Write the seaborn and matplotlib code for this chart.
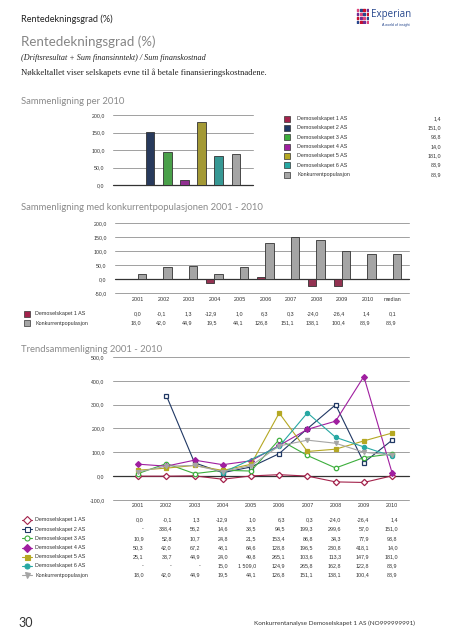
import numpy as np
import pandas as pd
import matplotlib
matplotlib.use("Agg")
import matplotlib.pyplot as plt
from matplotlib.lines import Line2D
import seaborn as sns

# ---- data ----
firms = ["Demoselskapet 1 AS", "Demoselskapet 2 AS", "Demoselskapet 3 AS",
         "Demoselskapet 4 AS", "Demoselskapet 5 AS", "Demoselskapet 6 AS",
         "Konkurrentpopulasjon"]
firm_colors = ["#a3224b", "#203864", "#3cae3c", "#a01fa0", "#b5a823", "#27a8a3", "#a5a5a5"]
values_2010 = [1.4, 151.0, 93.8, 14.0, 181.0, 83.9, 88.9]

comp_labels = ["2001", "2002", "2003", "2004", "2005", "2006", "2007", "2008", "2009", "2010", "median"]
comp_firm1 = [0.0, -0.1, 1.3, -12.9, 1.0, 6.3, 0.3, -24.0, -26.4, 1.4, 0.1]
comp_pop = [18.0, 42.0, 44.9, 19.5, 44.1, 126.8, 151.1, 138.1, 100.4, 88.9, 88.9]

years = [2001, 2002, 2003, 2004, 2005, 2006, 2007, 2008, 2009, 2010]
nan = np.nan
trend_1 = [0.0, -0.1, 1.3, -12.9, 1.0, 6.3, 0.3, -24.0, -26.4, 1.4]
trend_2 = [nan, 338.4, 56.2, 14.6, 38.5, 94.5, 199.3, 299.6, 57.0, 151.0]
trend_3 = [10.9, 52.8, 10.7, 24.8, 21.5, 153.4, 86.8, 34.3, 77.9, 93.8]
trend_4 = [50.3, 42.0, 67.2, 48.1, 64.6, 128.8, 196.5, 230.8, 418.1, 14.0]
trend_5 = [25.1, 33.7, 44.9, 24.0, 49.8, 265.1, 103.6, 113.3, 147.9, 181.0]
trend_6 = [nan, nan, nan, 15.0, 1509.0, 124.9, 265.8, 162.8, 122.8, 83.9]
trend_pop = [18.0, 42.0, 44.9, 19.5, 44.1, 126.8, 151.1, 138.1, 100.4, 88.9]
trend_series = [trend_1, trend_2, trend_3, trend_4, trend_5, trend_6, trend_pop]
trend_markers = ["D", "s", "o", "D", "s", "o", "v"]
trend_open = [True, True, True, False, False, False, False]

W, H = 453, 640
sns.set_style("white")
plt.rcParams["font.family"] = ["Liberation Sans", "DejaVu Sans"]
TXT = "#333333"
HEAD = "Lato"

fig = plt.figure(figsize=(W / 100, H / 100), dpi=100)


def px_axes(x0, y0, x1, y1):
    return fig.add_axes([x0 / W, 1 - y1 / H, (x1 - x0) / W, (y1 - y0) / H])


def ftext(x, y, s, **kw):
    kw.setdefault("va", "center")
    fig.text(x / W, 1 - y / H, s, **kw)


def fmt(v):
    if np.isnan(v):
        return "-"
    return f"{v:,.1f}".replace(",", " ").replace(".", ",")


def fmarker(x, y, color, marker, open_=False, line=False, ms=4):
    xs = [(x - 5) / W, x / W, (x + 5) / W] if line else [x / W]
    ys = [1 - y / H] * len(xs)
    fig.add_artist(Line2D(xs, ys, transform=fig.transFigure, color=color, lw=0.8,
                          marker=marker, ms=ms, markevery=[1] if line else None,
                          mfc="white" if open_ else color,
                          mec=color if line else "#333333", mew=0.8 if line else 0.5))


def style_axes(ax, ticks):
    for s in ax.spines.values():
        s.set_visible(False)
    for t in ticks:
        ax.axhline(t, color="#333333" if t == 0 else "#a0a0a0",
                   lw=0.9 if t == 0 else 0.7, zorder=0, clip_on=False)
    ax.set_yticks(ticks)
    ax.set_yticklabels([fmt(t) for t in ticks], fontsize=3.8, color=TXT)
    ax.tick_params(axis="y", length=0, pad=6)
    ax.set_xlabel("")
    ax.set_ylabel("")


# ---- page header ----
ftext(21, 19, "Rentedekningsgrad (%)", size=6.6, color="#222222", family=HEAD)
ftext(21, 42, "Rentedekningsgrad (%)", size=9.6, color="#858585", family=HEAD)
ftext(21, 58, "(Driftsresultat + Sum finansinntekt) / Sum finanskostnad", size=5.9,
      style="italic", family="Liberation Serif", color="#222222")
ftext(21, 73, "Nøkkeltallet viser selskapets evne til å betale finansieringskostnadene.",
      size=6.2, family="Liberation Serif", color="#222222")

# logo
logo = px_axes(356, 8, 369, 24)
gx, gy = np.meshgrid(np.arange(4), np.arange(4))
dot_cols = ["#26478d", "#c8102e", "#6f2c91", "#e0457b"]
logo.scatter(gx.ravel(), gy.ravel(), s=1.2, marker="s",
             c=[dot_cols[(i + j) % 4] for i, j in zip(gx.ravel(), gy.ravel())])
logo.set_xlim(-0.5, 3.5)
logo.set_ylim(-0.5, 3.5)
logo.axis("off")
ftext(371, 15, "Experian", size=7, color="#26478d", family="Open Sans")
ftext(410, 25, "A world of insight", size=2.6, color="#26478d", ha="right")

# ---- chart 1 ----
ftext(21, 101, "Sammenligning per 2010", size=6.8, color="#8a8a8a", family=HEAD)
ax1 = px_axes(113, 115, 253, 185)
sns.barplot(x=firms, y=values_2010, hue=firms, palette=firm_colors, width=0.5,
            edgecolor="#333333", linewidth=0.6, legend=False, ax=ax1, zorder=2)
ax1.set_ylim(0, 200)
ax1.set_xlim(-1.17, 7.0)
ax1.set_xticks([])
style_axes(ax1, [0, 50, 100, 150, 200])

for i, (name, col, v) in enumerate(zip(firms, firm_colors, values_2010)):
    y = 118.5 + i * 9.35
    fmarker(287, y, col, "s")
    ftext(297, y, name, size=3.9, color=TXT)
    ftext(441, y, fmt(v), size=3.9, color=TXT, ha="right")

# ---- chart 2 ----
ftext(21, 208, "Sammenligning med konkurrentpopulasjonen 2001 - 2010", size=6.8,
      color="#8a8a8a", family=HEAD)
ax2 = px_axes(115, 223, 409, 293)
comp_df = pd.DataFrame({
    "label": comp_labels * 2,
    "serie": [firms[0]] * len(comp_labels) + [firms[6]] * len(comp_labels),
    "value": comp_firm1 + comp_pop,
})
sns.barplot(data=comp_df, x="label", y="value", hue="serie",
            palette=[firm_colors[0], firm_colors[6]], width=0.65,
            edgecolor="#333333", linewidth=0.6, ax=ax2, zorder=2)
ax2.legend_.remove()
ax2.set_ylim(-50, 200)
ax2.set_xlim(-0.9, 10.63)
style_axes(ax2, [-50, 0, 50, 100, 150, 200])
ax2.tick_params(axis="x", length=0, pad=3.2, labelsize=3.9, labelcolor=TXT)

for r, (name, col, vals) in enumerate([(firms[0], firm_colors[0], comp_firm1),
                                       (firms[6], firm_colors[6], comp_pop)]):
    y = 313.7 + r * 9.3
    fmarker(27, y, col, "s")
    ftext(35, y, name, size=3.9, color=TXT)
    for i, v in enumerate(vals):
        ax2.text(i + 0.12, 1 - (y - 223) / 70, fmt(v), transform=ax2.get_xaxis_transform(),
                 ha="right", va="center", fontsize=3.9, color=TXT, clip_on=False)

# ---- chart 3 ----
ftext(21, 349, "Trendsammenligning 2001 - 2010", size=6.8, color="#8a8a8a", family=HEAD)
ax3 = px_axes(113, 357, 409, 500)
ymin3, ymax3 = -100, 500
for name, col, vals, mk, op in zip(firms, firm_colors, trend_series, trend_markers, trend_open):
    # values outside the axis range are not drawn
    shown = [v if ymin3 <= v <= ymax3 else nan for v in vals]
    sns.lineplot(x=np.arange(len(years)), y=shown, color=col, lw=0.8, marker=mk,
                 ms=3.2 if op else 3.0, mfc="white" if op else col, mec=col, mew=0.9,
                 ax=ax3, zorder=3)
ax3.set_ylim(ymin3, ymax3)
ax3.set_xlim(-0.89, 9.6)
style_axes(ax3, [-100, 0, 100, 200, 300, 400, 500])
ax3.set_xticks(np.arange(len(years)))
ax3.set_xticklabels([str(y) for y in years])
ax3.tick_params(axis="x", length=0, pad=2.2, labelsize=3.9, labelcolor=TXT)

for r, (name, col, vals, mk, op) in enumerate(zip(firms, firm_colors, trend_series,
                                                    trend_markers, trend_open)):
    y = 520 + r * 9.2
    fmarker(27, y, col, mk, open_=op, line=True, ms=3.6)
    ftext(35, y, name, size=3.9, color=TXT)
    for i, v in enumerate(vals):
        ax3.text(i + 0.2, 1 - (y - 357) / 143, fmt(v), transform=ax3.get_xaxis_transform(),
                 ha="right", va="center", fontsize=3.9, color=TXT, clip_on=False)

# ---- footer ----
ftext(18, 623, "30", size=9, color="#333333", family=HEAD)
ftext(415, 623, "Konkurrentanalyse Demoselskapet 1 AS (NO999999991)", size=4.6,
      color="#333333", ha="right", family=HEAD)

fig.savefig("out.png", dpi=100)
